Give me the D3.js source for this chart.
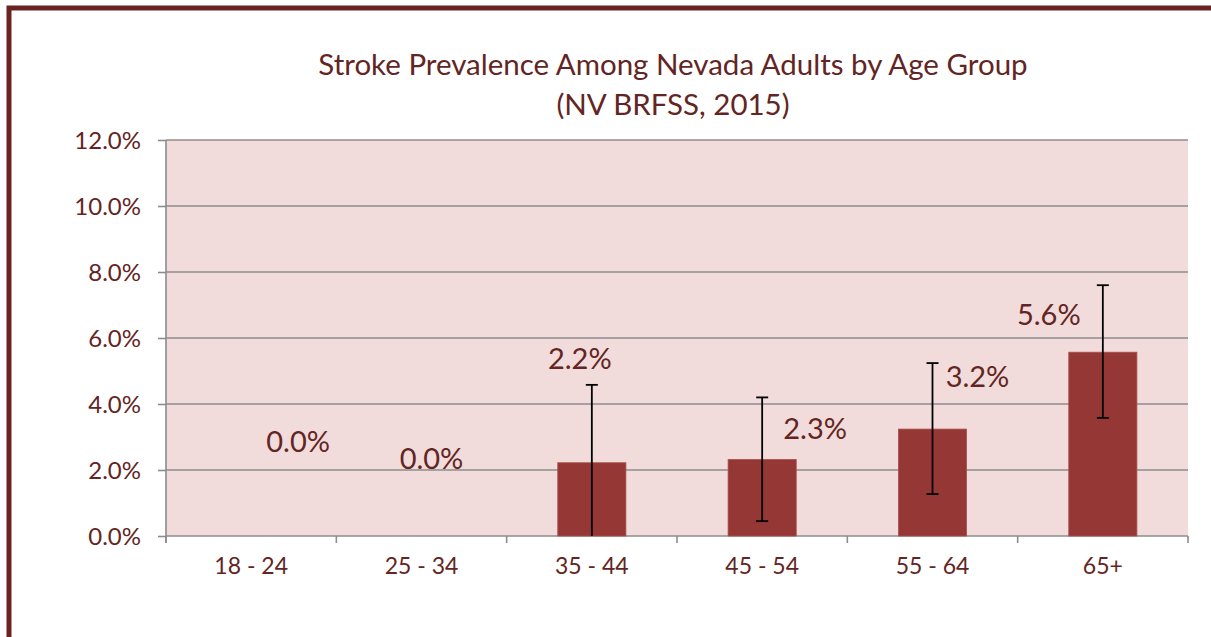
<!DOCTYPE html>
<html>
<head>
<meta charset="utf-8">
<script src="https://cdn.jsdelivr.net/npm/d3@7"></script>
<style>
  html, body { margin: 0; padding: 0; background: #ffffff; }
  svg { display: block; }
  text { font-family: Lato, "Noto Sans", sans-serif; }
</style>
</head>
<body>
<svg id="chart" width="1211" height="637"></svg>
<script>
// ---- data ----
const titleLines = ["Stroke Prevalence Among Nevada Adults by Age Group", "(NV BRFSS, 2015)"];
const categories = ["18 - 24", "25 - 34", "35 - 44", "45 - 54", "55 - 64", "65+"];
const prevalence = [0.0, 0.0, 2.22, 2.32, 3.24, 5.57];
const ciLower = [null, null, 0.0, 0.45, 1.27, 3.58];
const ciUpper = [null, null, 4.58, 4.20, 5.24, 7.60];
const yTicks = [0, 2, 4, 6, 8, 10, 12];

// ---- layout (not data) ----
const labelDx = [47, 10, -12, 53, 45, -54];   // manual label offsets from bar centre (px)
const labelDy = [-84, -67, -94, -20, -42, -27]; // baseline offsets from bar top (px)

const W = 1211, H = 637;
const plot = { left: 166, right: 1188, top: 140, bottom: 536 };

const textColor = "#632523";
const barColor = "#953735";
const plotBg = "#f2dcdb";
const gridColor = "#8c8c8c";

const svg = d3.select("#chart");

// outer frame (extends beyond window on right/bottom)
svg.append("rect")
  .attr("x", 9).attr("y", 8)
  .attr("width", W + 20).attr("height", H + 20)
  .attr("fill", "#ffffff")
  .attr("stroke", "#6b2222")
  .attr("stroke-width", 5);

const x = d3.scaleBand().domain(categories).range([plot.left, plot.right]).paddingInner(0.6).paddingOuter(0.3);
const xOuter = d3.scaleBand().domain(categories).range([plot.left, plot.right]);
const y = d3.scaleLinear().domain([0, 12]).range([plot.bottom, plot.top]);

// plot background
svg.append("rect")
  .attr("x", plot.left).attr("y", plot.top)
  .attr("width", plot.right - plot.left).attr("height", plot.bottom - plot.top)
  .attr("fill", plotBg);

// gridlines
svg.append("g").selectAll("line").data(yTicks.filter(d => d > 0)).join("line")
  .attr("x1", plot.left).attr("x2", plot.right)
  .attr("y1", d => y(d)).attr("y2", d => y(d))
  .attr("stroke", gridColor).attr("stroke-width", 1.6);

// y axis
const yAxis = d3.axisLeft(y).tickValues(yTicks).tickSize(8).tickPadding(17)
  .tickFormat(d => d.toFixed(1) + "%");
const gy = svg.append("g").attr("transform", `translate(${plot.left},0)`).call(yAxis);
gy.select(".domain").attr("stroke", gridColor).attr("stroke-width", 1.6)
  .attr("d", `M0,${plot.top}V${plot.bottom + 7}`);
gy.selectAll(".tick line").attr("stroke", gridColor).attr("stroke-width", 1.6);
gy.selectAll(".tick text").attr("fill", textColor).style("font-size", "24px")
  .attr("dy", "0.36em");

// x axis
const xAxis = d3.axisBottom(xOuter).tickSize(0).tickPadding(30);
const gx = svg.append("g").attr("transform", `translate(0,${plot.bottom})`).call(xAxis);
gx.select(".domain").attr("stroke", gridColor).attr("stroke-width", 1.6)
  .attr("d", `M${plot.left},0H${plot.right}`);
gx.selectAll(".tick text").attr("fill", textColor).style("font-size", "23px").attr("dy", "0.71em")
  .attr("y", 22);
// category boundary tick marks
const boundaries = categories.map(c => xOuter(c)).concat([plot.right]);
gx.append("g").selectAll("line").data(boundaries).join("line")
  .attr("x1", d => d).attr("x2", d => d)
  .attr("y1", 0).attr("y2", 7)
  .attr("stroke", gridColor).attr("stroke-width", 1.6);

// bars
svg.append("g").selectAll("rect").data(prevalence).join("rect")
  .attr("x", (d, i) => x(categories[i]))
  .attr("y", d => y(d))
  .attr("width", x.bandwidth())
  .attr("height", d => y(0) - y(d))
  .attr("fill", barColor)
  .attr("stroke", "#a8514f").attr("stroke-width", 0.8);

// error bars
const eb = svg.append("g").attr("stroke", "#000").attr("stroke-width", 1.8);
prevalence.forEach((v, i) => {
  if (ciLower[i] === null) return;
  const cx = x(categories[i]) + x.bandwidth() / 2;
  const lo = Math.max(0, ciLower[i]);
  eb.append("line").attr("x1", cx).attr("x2", cx).attr("y1", y(ciUpper[i])).attr("y2", y(lo));
  eb.append("line").attr("x1", cx - 6).attr("x2", cx + 6).attr("y1", y(ciUpper[i])).attr("y2", y(ciUpper[i]));
  if (ciLower[i] > 0) {
    eb.append("line").attr("x1", cx - 6).attr("x2", cx + 6).attr("y1", y(lo)).attr("y2", y(lo));
  }
});

// data labels
svg.append("g").selectAll("text").data(prevalence).join("text")
  .attr("x", (d, i) => x(categories[i]) + x.bandwidth() / 2 + labelDx[i])
  .attr("y", (d, i) => y(d) + labelDy[i])
  .attr("text-anchor", "middle")
  .attr("fill", textColor)
  .style("font-size", "29px")
  .text(d => d.toFixed(1) + "%");

// title
svg.append("g").selectAll("text").data(titleLines).join("text")
  .attr("x", 673)
  .attr("y", (d, i) => 75 + i * 40)
  .attr("text-anchor", "middle")
  .attr("fill", textColor)
  .style("font-size", "29.5px")
  .text(d => d);
</script>
</body>
</html>
